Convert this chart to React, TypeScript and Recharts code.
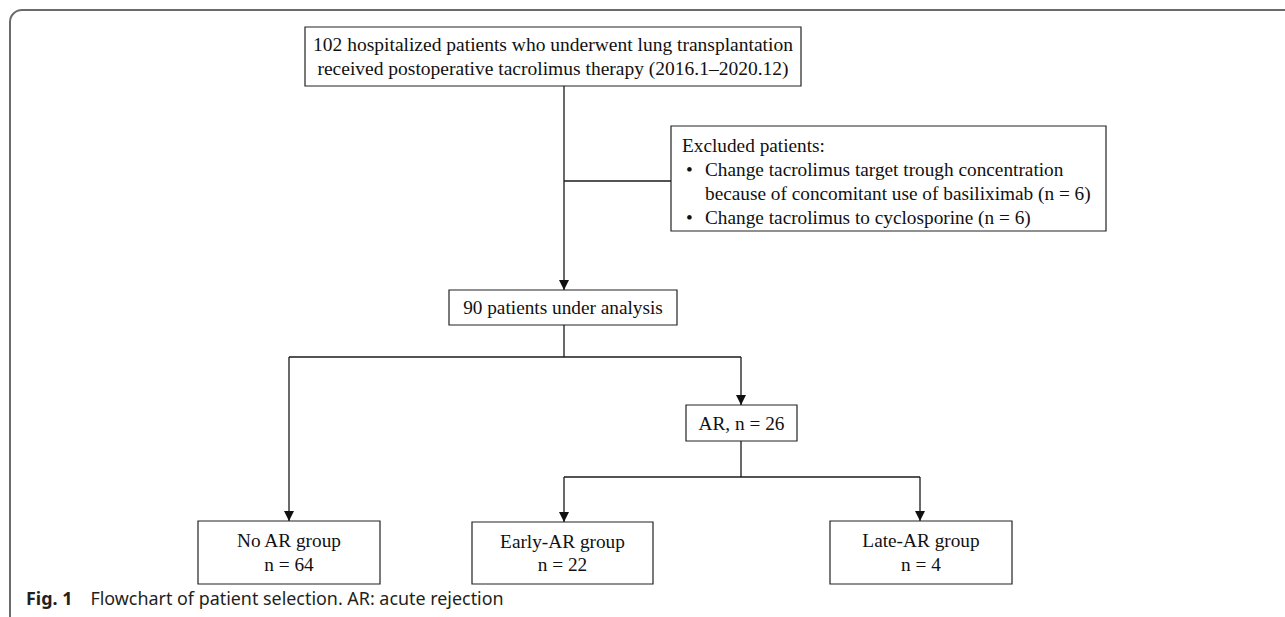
import React from 'react';
import { ComposedChart, XAxis, YAxis, ReferenceArea, ReferenceLine, Scatter } from 'recharts';

// Flowchart canvas (logical units = pixels of the figure)
const canvasX = [0, 1285];
const canvasY = [0, 617];

// Node texts
const nodeTopLines = ['102 hospitalized patients who underwent lung transplantation', 'received postoperative tacrolimus therapy (2016.1–2020.12)'];
const nodeAnalysisLines = ['90 patients under analysis'];
const nodeARLines = ['AR, n = 26'];
const nodeNoARLines = ['No AR group', 'n = 64'];
const nodeEarlyLines = ['Early-AR group', 'n = 22'];
const nodeLateLines = ['Late-AR group', 'n = 4'];
const excludedLines = [
  { bullet: false, indent: false, text: 'Excluded patients:' },
  { bullet: true, indent: true, text: 'Change tacrolimus target trough concentration' },
  { bullet: false, indent: true, text: 'because of concomitant use of basiliximab (n = 6)' },
  { bullet: true, indent: true, text: 'Change tacrolimus to cyclosporine (n = 6)' },
];

// Node extents [x1, x2, y1, y2]
const nodeTop = [305, 801, 27, 86];
const nodeExcluded = [671, 1106, 126, 231];
const nodeAnalysis = [449, 677, 290, 325];
const nodeAR = [686, 797, 405, 441];
const nodeNoAR = [198, 380, 521, 584];
const nodeEarly = [472, 653, 522, 584];
const nodeLate = [830, 1012, 521, 584];

// Connectors [x1, y1, x2, y2]
const connectors = [
  [564, 86, 564, 290],
  [564, 181, 671, 181],
  [564, 325, 564, 357],
  [289, 357, 741, 357],
  [289, 357, 289, 521],
  [741, 357, 741, 405],
  [741, 441, 741, 477],
  [564, 477, 920, 477],
  [564, 477, 564, 522],
  [920, 477, 920, 521],
];

// Arrow tips
const arrowTips = [
  { x: 564, y: 290 },
  { x: 289, y: 521 },
  { x: 741, y: 405 },
  { x: 564, y: 522 },
  { x: 920, y: 521 },
];

const captionBold = 'Fig. 1';
const captionText = 'Flowchart of patient selection. AR: acute rejection';

const SERIF = '"Liberation Serif", "Times New Roman", serif';
const FONT_SIZE = 19.3;
const LINE_H = 23.5;

const centeredLabel = (lines: string[], size = FONT_SIZE) => (props: any) => {
  const vb = props.viewBox || {};
  const cx = vb.x + vb.width / 2;
  const cy = vb.y + vb.height / 2;
  const startY = cy - ((lines.length - 1) * LINE_H) / 2;
  return (
    <text textAnchor="middle" fontFamily={SERIF} fontSize={size} fill="#111">
      {lines.map((l, i) => (
        <tspan key={i} x={cx} y={startY + i * LINE_H} dominantBaseline="central">
          {l}
        </tspan>
      ))}
    </text>
  );
};

const excludedLabel = (props: any) => {
  const vb = props.viewBox || {};
  const left = vb.x + 11;
  const top = vb.y + 19;
  const lh = 24.3;
  return (
    <g fontFamily={SERIF} fontSize={FONT_SIZE} fill="#111">
      {excludedLines.map((l, i) => (
        <g key={i}>
          {l.bullet && (
            <text x={left + 4} y={top + i * lh} dominantBaseline="central">•</text>
          )}
          <text x={l.indent ? left + 23 : left} y={top + i * lh} dominantBaseline="central">
            {l.text}
          </text>
        </g>
      ))}
    </g>
  );
};

const Arrow = (props: any) => {
  const { cx, cy } = props;
  if (cx == null || cy == null) return null;
  return <path d={`M${cx - 5},${cy - 10} L${cx + 5},${cy - 10} L${cx},${cy} Z`} fill="#111" />;
};

const boxStyle = { fill: '#fff', fillOpacity: 1, stroke: '#222', strokeWidth: 1.2, strokeOpacity: 1 };

const Box = (b: number[], label: any, key: string) => (
  <ReferenceArea key={key} x1={b[0]} x2={b[1]} y1={b[2]} y2={b[3]} ifOverflow="visible" {...boxStyle} label={label} />
);

export default function App() {
  return (
    <div style={{ position: 'absolute', left: 0, top: 0, width: 1285, height: 617, background: '#fff' }}>
      <ComposedChart width={1285} height={617} margin={{ top: 0, right: 0, bottom: 0, left: 0 }} data={arrowTips}>
        <XAxis type="number" dataKey="x" domain={canvasX} hide allowDataOverflow />
        <YAxis type="number" dataKey="y" domain={canvasY} reversed hide allowDataOverflow width={0} />
        <ReferenceArea
          x1={10}
          x2={1400}
          y1={10}
          y2={700}
          ifOverflow="visible"
          radius={12}
          fill="none"
          fillOpacity={0}
          stroke="#6b6b6b"
          strokeWidth={2}
          strokeOpacity={1}
        />
        {connectors.map((c, i) => (
          <ReferenceLine
            key={'c' + i}
            segment={[{ x: c[0], y: c[1] }, { x: c[2], y: c[3] }]}
            stroke="#1a1a1a"
            strokeWidth={1.3}
            ifOverflow="visible"
          />
        ))}
        {Box(nodeTop, centeredLabel(nodeTopLines, 19.5), 'top')}
        {Box(nodeExcluded, excludedLabel, 'exc')}
        {Box(nodeAnalysis, centeredLabel(nodeAnalysisLines), 'ana')}
        {Box(nodeAR, centeredLabel(nodeARLines), 'ar')}
        {Box(nodeNoAR, centeredLabel(nodeNoARLines), 'noar')}
        {Box(nodeEarly, centeredLabel(nodeEarlyLines), 'early')}
        {Box(nodeLate, centeredLabel(nodeLateLines), 'late')}
        <Scatter dataKey="y" data={arrowTips} shape={Arrow} isAnimationActive={false} />
      </ComposedChart>
      <div
        style={{
          position: 'absolute',
          left: 26,
          top: 586,
          lineHeight: '24px',
          fontFamily: '"Noto Sans", "Open Sans", sans-serif',
          fontSize: 17.9,
          color: '#231f20',
          whiteSpace: 'nowrap',
        }}
      >
        <span style={{ fontWeight: 700 }}>{captionBold}</span>
        <span style={{ marginLeft: 18 }}>{captionText}</span>
      </div>
    </div>
  );
}
